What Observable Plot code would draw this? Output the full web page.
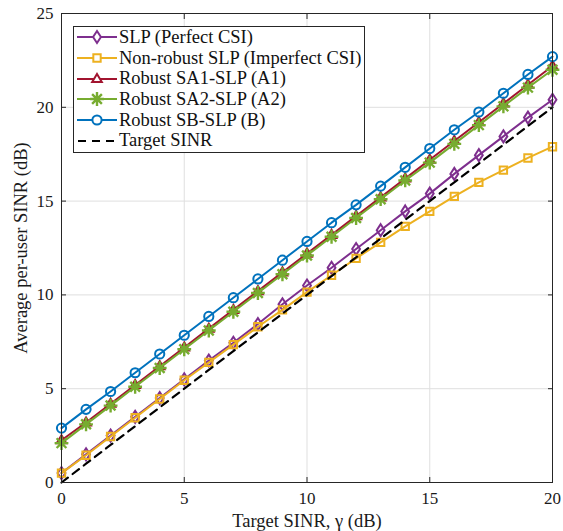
<!DOCTYPE html>
<html><head><meta charset="utf-8">
<script src="https://cdn.jsdelivr.net/npm/d3@7"></script>
<script src="https://cdn.jsdelivr.net/npm/@observablehq/plot@0.6"></script>
<style>
body{margin:0;background:#fff;}
#wrap{position:relative;width:563px;height:531px;}
#legend{position:absolute;left:73px;top:26px;width:290px;height:125px;border:1px solid #262626;background:#fff;}
.row{display:flex;align-items:center;height:20.7px;margin-left:2px;font-family:"Liberation Serif";font-size:18.5px;color:#111;white-space:nowrap;}
.row svg{flex:none;margin-right:1px;}
.plotfont text{font-family:"Liberation Serif";}
</style></head>
<body><div id="wrap"><div id="chart"></div><div id="legend"></div></div>
<script>
const gamma = [0,1,2,3,4,5,6,7,8,9,10,11,12,13,14,15,16,17,18,19,20];
const slpPerfect = [0.5,1.5,2.5,3.5,4.5,5.5,6.5,7.45,8.45,9.5,10.5,11.45,12.45,13.45,14.45,15.4,16.45,17.45,18.45,19.45,20.4];
const nonRobust = [0.5,1.45,2.45,3.45,4.45,5.45,6.4,7.35,8.3,9.2,10.15,11.05,11.95,12.8,13.65,14.45,15.25,16.0,16.65,17.3,17.9];
const robustA1 = [2.25,3.2,4.2,5.2,6.2,7.2,8.2,9.2,10.2,11.2,12.2,13.2,14.2,15.2,16.2,17.2,18.2,19.2,20.2,21.2,22.2];
const robustA2 = [2.1,3.1,4.1,5.1,6.1,7.1,8.1,9.1,10.1,11.1,12.1,13.1,14.1,15.1,16.1,17.05,18.05,19.05,20.05,21.05,22.0];
const robustB = [2.9,3.9,4.85,5.85,6.85,7.85,8.85,9.85,10.85,11.85,12.85,13.85,14.8,15.8,16.8,17.8,18.8,19.75,20.75,21.75,22.7];
const targetSinr = [0,1,2,3,4,5,6,7,8,9,10,11,12,13,14,15,16,17,18,19,20];
const xTicks = [0,5,10,15,20];
const yTicks = [0,5,10,15,20,25];
const seriesNames = ["SLP (Perfect CSI)","Non-robust SLP (Imperfect CSI)","Robust SA1-SLP (A1)","Robust SA2-SLP (A2)","Robust SB-SLP (B)","Target SINR"];
const seriesColors = ["#7E2F8E","#EDB120","#A2142F","#77AC30","#0072BD","#000000"];

const symDiamond = {draw(c, size){const r=Math.sqrt(size/Math.PI);const w=r*0.85,h=r*1.3;c.moveTo(0,-h);c.lineTo(w,0);c.lineTo(0,h);c.lineTo(-w,0);c.closePath();}};
const symSquare = {draw(c, size){const r=Math.sqrt(size/Math.PI)*0.8;c.rect(-r,-r,2*r,2*r);}};
const symTriangle = {draw(c, size){const r=Math.sqrt(size/Math.PI)*1.1;c.moveTo(0,-r);c.lineTo(r*0.95,r*0.6);c.lineTo(-r*0.95,r*0.6);c.closePath();}};
const symCircle = {draw(c, size){const r=Math.sqrt(size/Math.PI);c.moveTo(r,0);c.arc(0,0,r,0,2*Math.PI);}};
const symStar = {draw(c, size){const r=Math.sqrt(size/Math.PI)*1.5;const d=r*0.707;c.moveTo(-r,0);c.lineTo(r,0);c.moveTo(0,-r);c.lineTo(0,r);c.moveTo(-d,-d);c.lineTo(d,d);c.moveTo(-d,d);c.lineTo(d,-d);}};
const seriesSymbols = [symDiamond,symSquare,symTriangle,symStar,symCircle,null];
const seriesValues = [slpPerfect,nonRobust,robustA1,robustA2,robustB,targetSinr];

const rows = [];
seriesValues.forEach((vals,i)=>vals.forEach((v,j)=>rows.push({x:gamma[j],y:v,s:i})));
const marks = [
  Plot.gridX({ticks:xTicks, stroke:"#dfdfdf", strokeOpacity:1}),
  Plot.gridY({ticks:yTicks, stroke:"#dfdfdf", strokeOpacity:1}),
];
for (let i = 0; i < seriesValues.length; i++){
  const data = rows.filter(d=>d.s===i);
  if (i===5){
    marks.push(Plot.line(data,{x:"x",y:"y",stroke:seriesColors[i],strokeWidth:2.2,strokeDasharray:"8,6"}));
  } else {
    marks.push(Plot.line(data,{x:"x",y:"y",stroke:seriesColors[i],strokeWidth:2}));
    marks.push(Plot.dot(data,{x:"x",y:"y",stroke:seriesColors[i],strokeWidth:i===3?2.4:2,fill:"none",symbol:()=>seriesSymbols[i],r:4.6}));
  }
}
marks.push(
  Plot.frame({stroke:"#262626",strokeWidth:1}),
  Plot.axisX({ticks:xTicks,tickSize:0,tickPadding:9,fontSize:17,label:"Target SINR, γ (dB)",labelAnchor:"center",labelOffset:44,labelArrow:"none"}),
  Plot.axisY({ticks:yTicks,tickSize:0,tickPadding:8,fontSize:17,label:"Average per-user SINR (dB)",labelAnchor:"center",labelOffset:48,labelArrow:"none"}),
  Plot.axisX({ticks:xTicks,anchor:"bottom",tickSize:-5,text:null,label:null,stroke:"#262626"}),
  Plot.axisX({ticks:xTicks,anchor:"top",tickSize:-5,text:null,label:null,stroke:"#262626"}),
  Plot.axisY({ticks:yTicks,anchor:"left",tickSize:-5,text:null,label:null,stroke:"#262626"}),
  Plot.axisY({ticks:yTicks,anchor:"right",tickSize:-5,text:null,label:null,stroke:"#262626"})
);
const chart = Plot.plot({
  width:563,height:531,marginLeft:61,marginRight:11,marginTop:13,marginBottom:49,
  className:"plotfont",
  style:{fontFamily:"Liberation Serif",fontSize:"17px",color:"#1a1a1a",background:"#fff"},
  x:{domain:[0,20]},
  y:{domain:[0,25]},
  marks
});
chart.querySelectorAll('[aria-label="x-axis label"] text, [aria-label="y-axis label"] text').forEach(t=>t.setAttribute("font-size","18.5px"));
document.getElementById("chart").appendChild(chart);

const legend = d3.select("#legend");
seriesNames.forEach((name,i)=>{
  const row = legend.append("div").attr("class","row");
  const svg = row.append("svg").attr("width",42).attr("height",20);
  if (i===5){
    svg.append("line").attr("x1",2).attr("x2",41).attr("y1",10).attr("y2",10).attr("stroke","#000").attr("stroke-width",2.2).attr("stroke-dasharray","8,6");
  } else {
    svg.append("line").attr("x1",1).attr("x2",41).attr("y1",10).attr("y2",10).attr("stroke",seriesColors[i]).attr("stroke-width",2);
    svg.append("path").attr("transform","translate(21,10)").attr("d",d3.symbol(seriesSymbols[i],Math.PI*4.6*4.6)()).attr("fill","#fff").attr("stroke",seriesColors[i]).attr("stroke-width",i===3?2.4:2);
  }
  row.append("span").text(name);
});
</script></body></html>
